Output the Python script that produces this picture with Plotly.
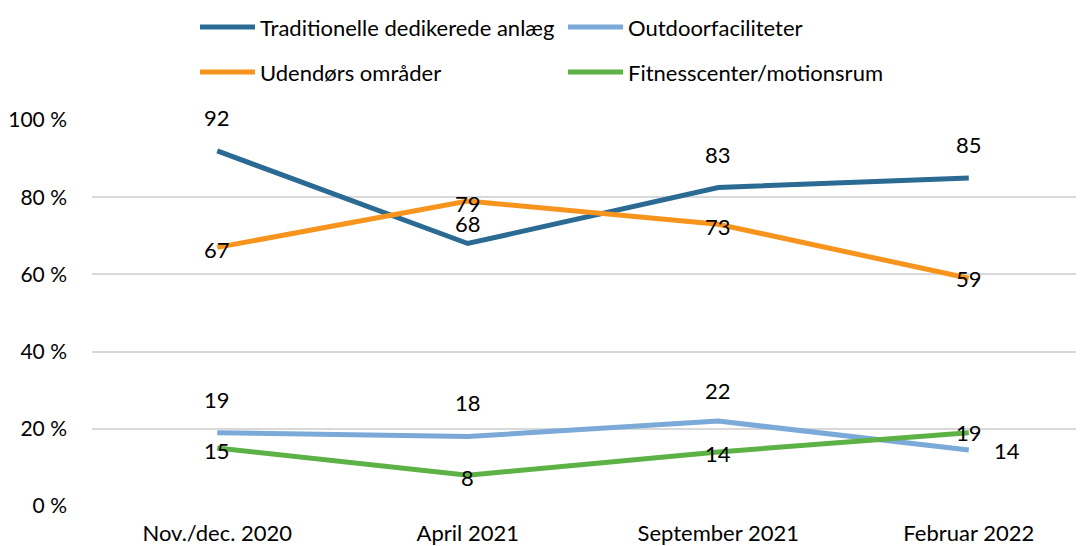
import plotly.graph_objects as go

categories = ["Nov./dec. 2020", "April 2021", "September 2021", "Februar 2022"]
traditionelle = [92, 68, 82.5, 85]
outdoor = [19, 18, 22, 14.5]
udendors = [67, 79, 73, 59]
fitness = [15, 8, 14, 19]
trad_labels = ["92", "68", "83", "85"]
outdoor_labels = ["19", "18", "22", "14"]
udendors_labels = ["67", "79", "73", "59"]
fitness_labels = ["15", "8", "14", "19"]

FONT = "Lato, Calibri, sans-serif"
series = [
    ("Traditionelle dedikerede anlæg", traditionelle, trad_labels, "#2A6A93"),
    ("Outdoorfaciliteter", outdoor, outdoor_labels, "#7BA9D8"),
    ("Udendørs områder", udendors, udendors_labels, "#F7941D"),
    ("Fitnesscenter/motionsrum", fitness, fitness_labels, "#5DB245"),
]
# label offsets (style only): (xshift, yshift) per point
label_offsets = [
    [(0, 33), (0, 20), (0, 33), (0, 33)],
    [(0, 33), (0, 34), (0, 31), (38, 0)],
    [(0, -2), (0, -2), (0, -2), (0, 0)],
    [(0, -2), (0, -2), (0, -2), (0, 0)],
]
# manual legend slots in figure pixels (style only): (x_line_start, y_center)
legend_slots = [(192, 19), (560, 19), (192, 64), (560, 64)]

W, H = 1076, 538
ML, MR, MT, MB = 84, 0, 112, 40
PW, PH = W - ML - MR, H - MT - MB

def px_to_paper(x, y):
    return (x - ML) / PW, (H - MB - y) / PH

fig = go.Figure()
for name, vals, labels, color in series:
    fig.add_trace(go.Scatter(
        x=categories, y=vals, mode="lines", name=name,
        line=dict(color=color, width=5), showlegend=False,
    ))

annotations = []
shapes = []
for (name, vals, labels, color), offs in zip(series, label_offsets):
    for c, v, t, (dx, dy) in zip(categories, vals, labels, offs):
        annotations.append(dict(
            x=c, y=v, text=t, showarrow=False, xshift=dx, yshift=dy,
            font=dict(family=FONT, size=22, color="#000000"),
            xref="x", yref="y",
        ))

for (name, vals, labels, color), (lx, ly) in zip(series, legend_slots):
    x0, y0 = px_to_paper(lx, ly)
    x1, _ = px_to_paper(lx + 55, ly)
    xt, _ = px_to_paper(lx + 58, ly)
    shapes.append(dict(type="line", xref="paper", yref="paper", x0=x0, x1=x1,
                       y0=y0, y1=y0, line=dict(color=color, width=5)))
    annotations.append(dict(x=xt, y=y0, xref="paper", yref="paper", text=name,
                            showarrow=False, xanchor="left", yanchor="middle",
                            font=dict(family=FONT, size=22, color="#000000")))

fig.update_layout(
    width=W, height=H,
    margin=dict(l=ML, r=MR, t=MT, b=MB, autoexpand=False),
    paper_bgcolor="white", plot_bgcolor="white",
    font=dict(family=FONT, size=21, color="#000000"),
    showlegend=False,
    xaxis=dict(type="category", range=[-0.5, 3.46], showgrid=False, showline=False,
               ticks="", tickfont=dict(family=FONT, size=22), ticklabelstandoff=12,
               automargin=False),
    yaxis=dict(range=[0, 100], dtick=20, ticksuffix=" %", showgrid=True,
               gridcolor="#D9D9D9", gridwidth=1.5, zeroline=False, showline=False,
               tickfont=dict(family=FONT, size=21), ticklabelstandoff=24,
               automargin=False),
    annotations=annotations,
    shapes=shapes,
)
fig.write_html("out.html")
